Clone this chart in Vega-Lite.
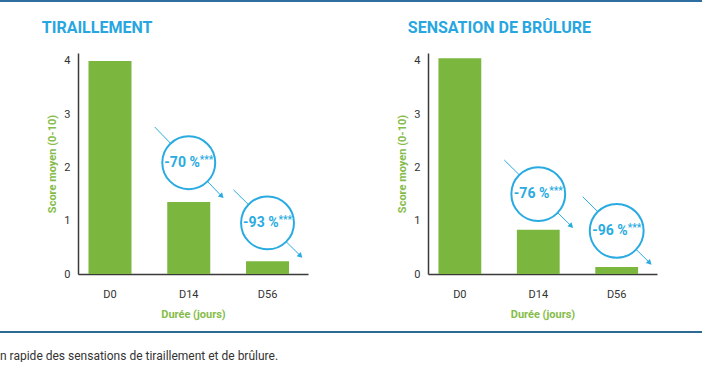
{
  "$schema": "https://vega.github.io/schema/vega-lite/v6.json",
  "padding": 0,
  "background": "white",
  "config": {
    "view": {"stroke": null},
    "font": "Roboto",
    "axis": {"grid": false, "ticks": false, "domainColor": "#3a3a3a", "domainWidth": 1.5, "labelColor": "#333333", "labelFontSize": 11, "labelFont": "Roboto", "titleColor": "#86bc4a", "titleFontWeight": "bold", "titleFontSize": 11, "titleFont": "Roboto"},
    "title": {"fontSize": 16, "fontWeight": "bold", "color": "#27a6df", "anchor": "start", "frame": "bounds", "font": "Roboto", "offset": 17}
  },
  "title": {"text": "n rapide des sensations de tiraillement et de brûlure.", "orient": "bottom", "anchor": "start", "fontSize": 12, "fontWeight": "normal", "color": "#333333", "offset": 18},
  "spacing": 18,
  "vconcat": [
    {"width": 702, "height": 2, "data": {"values": []}, "mark": "rule", "encoding": {}, "view": {"fill": "#2d6da0", "stroke": null}},
    {
      "spacing": 12,
      "vconcat": [
        {
          "spacing": 40,
          "hconcat": [
            {"width": 1, "height": 1, "data": {"values": []}, "mark": "rule", "encoding": {}},
            {
              "spacing": 88,
              "hconcat": [
                {
                  "title": {"text": "TIRAILLEMENT", "dx": -5},
                  "width": 230,
                  "height": 221,
                  "layer": [
                    {
                      "data": {"values": [{"duree": "D0", "score": 4.0}, {"duree": "D14", "score": 1.35}, {"duree": "D56", "score": 0.24}]},
                      "mark": {"type": "bar", "color": "#7bb63e"},
                      "encoding": {
                        "x": {"field": "duree", "type": "nominal", "scale": {"domain": ["D0", "D14", "D56"], "paddingInner": 0.454, "paddingOuter": 0.187, "align": 0.356}, "axis": {"title": "Durée (jours)", "labelAngle": 0, "labelPadding": 14, "titlePadding": 9}},
                        "y": {"field": "score", "type": "quantitative", "scale": {"domain": [0, 4.15], "nice": false}, "axis": {"values": [0, 1, 2, 3, 4], "format": "d", "title": "Score moyen (0-10)", "labelPadding": 8, "titlePadding": 6}}
                      }
                    },
                    {
                      "data": {"values": [{"duree": "D14", "centre": 2.09, "debut": 2.76, "fin": 1.46, "pct": "-70 %", "sig": "***"}, {"duree": "D56", "centre": 0.96, "debut": 1.58, "fin": 0.34, "pct": "-93 %", "sig": "***"}]},
                      "layer": [
                        {"mark": {"type": "rule", "xOffset": -34, "x2Offset": 33, "color": "#29abe2", "strokeWidth": 1}, "encoding": {"x": {"field": "duree", "type": "nominal"}, "x2": {"field": "duree"}, "y": {"field": "debut", "type": "quantitative"}, "y2": {"field": "fin"}}},
                        {"mark": {"type": "point", "shape": "circle", "size": 2800, "filled": true, "fill": "white", "stroke": "#29abe2", "strokeWidth": 2, "opacity": 1, "fillOpacity": 1}, "encoding": {"x": {"field": "duree", "type": "nominal"}, "y": {"field": "centre", "type": "quantitative"}}},
                        {"mark": {"type": "text", "color": "#29abe2", "fontWeight": "bold", "fontSize": 14, "align": "right", "dx": 11}, "encoding": {"x": {"field": "duree", "type": "nominal"}, "y": {"field": "centre", "type": "quantitative"}, "text": {"field": "pct"}}},
                        {"mark": {"type": "text", "color": "#29abe2", "fontWeight": "bold", "fontSize": 10, "align": "left", "dx": 11, "dy": -3}, "encoding": {"x": {"field": "duree", "type": "nominal"}, "y": {"field": "centre", "type": "quantitative"}, "text": {"field": "sig"}}},
                        {"mark": {"type": "point", "shape": "triangle-up", "angle": 135, "size": 35, "filled": true, "color": "#29abe2", "opacity": 1, "xOffset": 33}, "encoding": {"x": {"field": "duree", "type": "nominal"}, "y": {"field": "fin", "type": "quantitative"}}}
                      ]
                    }
                  ]
                },
                {
                  "title": {"text": "SENSATION DE BRÛLURE", "dx": 11},
                  "width": 229,
                  "height": 221,
                  "layer": [
                    {
                      "data": {"values": [{"duree": "D0", "score": 4.05}, {"duree": "D14", "score": 0.83}, {"duree": "D56", "score": 0.13}]},
                      "mark": {"type": "bar", "color": "#7bb63e"},
                      "encoding": {
                        "x": {"field": "duree", "type": "nominal", "scale": {"domain": ["D0", "D14", "D56"], "paddingInner": 0.454, "paddingOuter": 0.187, "align": 0.356}, "axis": {"title": "Durée (jours)", "labelAngle": 0, "labelPadding": 14, "titlePadding": 9}},
                        "y": {"field": "score", "type": "quantitative", "scale": {"domain": [0, 4.15], "nice": false}, "axis": {"values": [0, 1, 2, 3, 4], "format": "d", "title": "Score moyen (0-10)", "labelPadding": 8, "titlePadding": 6}}
                      }
                    },
                    {
                      "data": {"values": [{"duree": "D14", "centre": 1.5, "debut": 2.14, "fin": 0.9, "pct": "-76 %", "sig": "***"}, {"duree": "D56", "centre": 0.81, "debut": 1.45, "fin": 0.21, "pct": "-96 %", "sig": "***"}]},
                      "layer": [
                        {"mark": {"type": "rule", "xOffset": -34, "x2Offset": 33, "color": "#29abe2", "strokeWidth": 1}, "encoding": {"x": {"field": "duree", "type": "nominal"}, "x2": {"field": "duree"}, "y": {"field": "debut", "type": "quantitative"}, "y2": {"field": "fin"}}},
                        {"mark": {"type": "point", "shape": "circle", "size": 2900, "filled": true, "fill": "white", "stroke": "#29abe2", "strokeWidth": 2, "opacity": 1, "fillOpacity": 1}, "encoding": {"x": {"field": "duree", "type": "nominal"}, "y": {"field": "centre", "type": "quantitative"}}},
                        {"mark": {"type": "text", "color": "#29abe2", "fontWeight": "bold", "fontSize": 14, "align": "right", "dx": 11}, "encoding": {"x": {"field": "duree", "type": "nominal"}, "y": {"field": "centre", "type": "quantitative"}, "text": {"field": "pct"}}},
                        {"mark": {"type": "text", "color": "#29abe2", "fontWeight": "bold", "fontSize": 10, "align": "left", "dx": 11, "dy": -3}, "encoding": {"x": {"field": "duree", "type": "nominal"}, "y": {"field": "centre", "type": "quantitative"}, "text": {"field": "sig"}}},
                        {"mark": {"type": "point", "shape": "triangle-up", "angle": 135, "size": 35, "filled": true, "color": "#29abe2", "opacity": 1, "xOffset": 33}, "encoding": {"x": {"field": "duree", "type": "nominal"}, "y": {"field": "fin", "type": "quantitative"}}}
                      ]
                    }
                  ]
                }
              ]
            }
          ]
        },
        {"width": 702, "height": 2, "data": {"values": []}, "mark": "rule", "encoding": {}, "view": {"fill": "#2a6a94", "stroke": null}}
      ]
    }
  ]
}
